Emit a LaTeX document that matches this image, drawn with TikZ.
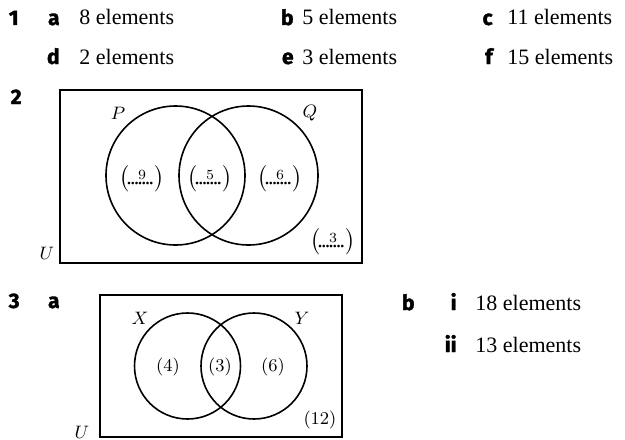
\documentclass[tikz,border=0pt]{standalone}
\usepackage{amsmath}
\usepackage[no-math]{fontspec}
\setmainfont{Liberation Serif}
\newfontfamily\textfnt{Liberation Serif}
\newfontfamily\lblfnt{Fira Sans}[BoldFeatures={FakeBold=1.6}]
\newcommand{\dotans}[1]{$\bigl(\mkern-2mu\rlap{\hbox to 1.35em{\leaders\hbox to 0.17em{\hss\textfnt.\hss}\hfill}}\hbox to 1.35em{\hss\raisebox{2.3pt}{\fontsize{7.5}{8}\selectfont$#1$}\hss}\mkern-2mu\bigr)$}

\begin{document}
\begin{tikzpicture}[x=0.5pt,y=-0.5pt, every node/.style={font=\fontsize{11}{13}\selectfont},
  qnum/.style={anchor=base east,inner sep=0pt,font=\lblfnt\bfseries\fontsize{10.5}{12}\selectfont},
  ans/.style={anchor=base west,inner sep=0pt,font=\textfnt\fontsize{11}{13}\selectfont},
  venn/.style={draw,circle,line width=0.8pt,inner sep=0pt},
  univ/.style={draw,rectangle,line width=0.8pt,inner sep=0pt},
  vlab/.style={inner sep=0pt,font=\fontsize{9}{10}\selectfont},
  blank/.style={inner sep=0pt,font=\fontsize{11}{13}\selectfont}]
\useasboundingbox (0,0) rectangle (625,439);
% question 1
\node[qnum] (q1) at (19,25) {1};
\node[qnum] (q1a) at (60,25) {a};
\node[ans] (a1a) at (79,25) {8 elements};
\node[qnum] (q1b) at (294,25) {b};
\node[ans] (a1b) at (302,25) {5 elements};
\node[qnum] (q1c) at (493,25) {c};
\node[ans] (a1c) at (507,25) {11 elements};
\node[qnum] (q1d) at (60,64) {d};
\node[ans] (a1d) at (79,64) {2 elements};
\node[qnum] (q1e) at (294,64) {e};
\node[ans] (a1e) at (302,64) {3 elements};
\node[qnum] (q1f) at (493,64) {f};
\node[ans] (a1f) at (507,64) {15 elements};
% question 2
\node[qnum] (q2) at (22,104) {2};
\node[univ,minimum width=151pt,minimum height=86.5pt] (U2) at (211,176.5) {};
\node[venn,minimum size=69.5pt] (P) at (175.5,175.5) {};
\node[venn,minimum size=69.5pt] (Q) at (248.5,175.5) {};
\node[vlab] (Plab) at (118,113) {$P$};
\node[vlab] (Qlab) at (310,113) {$Q$};
\node[vlab] (U2lab) at (47,253) {$U$};
\node[blank] (n9) at (142,179) {\dotans{9}};
\node[blank] (n5) at (210,179) {\dotans{5}};
\node[blank] (n6) at (280,179) {\dotans{6}};
\node[blank] (n3) at (333,242) {\dotans{3}};
% question 3
\node[qnum] (q3) at (20,308) {3};
\node[qnum] (q3a) at (60,308) {a};
\node[univ,minimum width=121pt,minimum height=71pt] (U3) at (221,366) {};
\node[venn,minimum size=53pt] (X) at (187.5,366) {};
\node[venn,minimum size=53pt] (Y) at (254,366) {};
\node[vlab] (Xlab) at (140,318) {$X$};
\node[vlab] (Ylab) at (302,318) {$Y$};
\node[vlab] (U3lab) at (82,432) {$U$};
\node[vlab] (m4) at (168,367) {$(4)$};
\node[vlab] (m3) at (220,367) {$(3)$};
\node[vlab] (m6) at (273,367) {$(6)$};
\node[vlab] (m12) at (320,420) {$(12)$};
\node[qnum] (q3b) at (415,310) {b};
\node[qnum] (q3bi) at (457,310) {i};
\node[ans] (a3bi) at (475,310) {18 elements};
\node[qnum] (q3bii) at (457,352) {ii};
\node[ans] (a3bii) at (475,352) {13 elements};
\end{tikzpicture}
\end{document}
